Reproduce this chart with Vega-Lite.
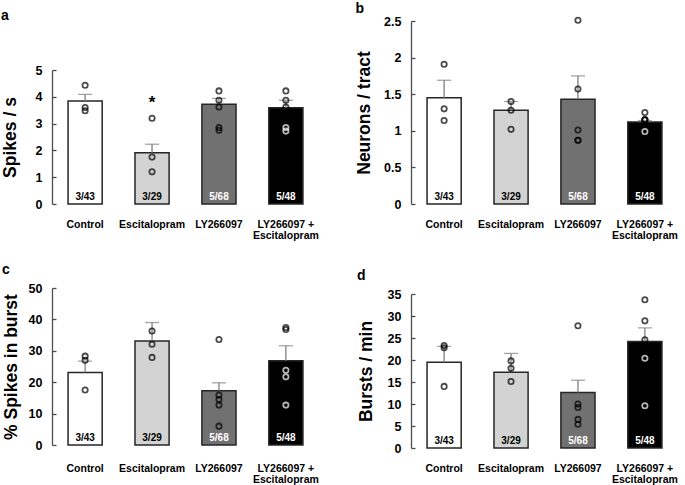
{
  "$schema": "https://vega.github.io/schema/vega-lite/v6.json",
  "padding": {"left": 1, "top": 2, "right": 0, "bottom": 0},
  "background": "white",
  "datasets": {
    "bars": [
      {"panel": "a", "g": "Control", "mean": 3.84, "hi": 4.09, "n": "3/43"},
      {"panel": "a", "g": "Escitalopram", "mean": 1.91, "hi": 2.23, "n": "3/29"},
      {"panel": "a", "g": "LY266097", "mean": 3.72, "hi": 3.94, "n": "5/68"},
      {"panel": "a", "g": "LY266097 + Escitalopram", "mean": 3.59, "hi": 3.87, "n": "5/48"},
      {"panel": "b", "g": "Control", "mean": 1.45, "hi": 1.69, "n": "3/43"},
      {"panel": "b", "g": "Escitalopram", "mean": 1.28, "hi": 1.40, "n": "3/29"},
      {"panel": "b", "g": "LY266097", "mean": 1.43, "hi": 1.75, "n": "5/68"},
      {"panel": "b", "g": "LY266097 + Escitalopram", "mean": 1.12, "hi": 1.14, "n": "5/48"},
      {"panel": "c", "g": "Control", "mean": 23.1, "hi": 26.7, "n": "3/43"},
      {"panel": "c", "g": "Escitalopram", "mean": 33.1, "hi": 39.0, "n": "3/29"},
      {"panel": "c", "g": "LY266097", "mean": 17.3, "hi": 19.8, "n": "5/68"},
      {"panel": "c", "g": "LY266097 + Escitalopram", "mean": 26.8, "hi": 31.6, "n": "5/48"},
      {"panel": "d", "g": "Control", "mean": 19.5, "hi": 23.1, "n": "3/43"},
      {"panel": "d", "g": "Escitalopram", "mean": 17.2, "hi": 21.5, "n": "3/29"},
      {"panel": "d", "g": "LY266097", "mean": 12.6, "hi": 15.4, "n": "5/68"},
      {"panel": "d", "g": "LY266097 + Escitalopram", "mean": 24.2, "hi": 27.3, "n": "5/48"}
    ],
    "points": [
      {"panel": "a", "g": "Control", "v": 4.43},
      {"panel": "a", "g": "Control", "v": 3.6},
      {"panel": "a", "g": "Control", "v": 3.48},
      {"panel": "a", "g": "Escitalopram", "v": 3.2},
      {"panel": "a", "g": "Escitalopram", "v": 1.75},
      {"panel": "a", "g": "Escitalopram", "v": 1.2},
      {"panel": "a", "g": "LY266097", "v": 4.22},
      {"panel": "a", "g": "LY266097", "v": 3.87},
      {"panel": "a", "g": "LY266097", "v": 3.62},
      {"panel": "a", "g": "LY266097", "v": 2.85},
      {"panel": "a", "g": "LY266097", "v": 2.75},
      {"panel": "a", "g": "LY266097 + Escitalopram", "v": 4.22},
      {"panel": "a", "g": "LY266097 + Escitalopram", "v": 3.87},
      {"panel": "a", "g": "LY266097 + Escitalopram", "v": 3.62},
      {"panel": "a", "g": "LY266097 + Escitalopram", "v": 2.85},
      {"panel": "a", "g": "LY266097 + Escitalopram", "v": 2.72},
      {"panel": "b", "g": "Control", "v": 1.91},
      {"panel": "b", "g": "Control", "v": 1.30},
      {"panel": "b", "g": "Control", "v": 1.14},
      {"panel": "b", "g": "Escitalopram", "v": 1.40},
      {"panel": "b", "g": "Escitalopram", "v": 1.28},
      {"panel": "b", "g": "Escitalopram", "v": 1.02},
      {"panel": "b", "g": "LY266097", "v": 2.51},
      {"panel": "b", "g": "LY266097", "v": 1.57},
      {"panel": "b", "g": "LY266097", "v": 1.01},
      {"panel": "b", "g": "LY266097", "v": 0.87},
      {"panel": "b", "g": "LY266097", "v": 0.87},
      {"panel": "b", "g": "LY266097 + Escitalopram", "v": 1.25},
      {"panel": "b", "g": "LY266097 + Escitalopram", "v": 1.15},
      {"panel": "b", "g": "LY266097 + Escitalopram", "v": 1.15},
      {"panel": "b", "g": "LY266097 + Escitalopram", "v": 1.15},
      {"panel": "b", "g": "LY266097 + Escitalopram", "v": 0.99},
      {"panel": "c", "g": "Control", "v": 28.3},
      {"panel": "c", "g": "Control", "v": 27.0},
      {"panel": "c", "g": "Control", "v": 17.5},
      {"panel": "c", "g": "Escitalopram", "v": 36.3},
      {"panel": "c", "g": "Escitalopram", "v": 32.1},
      {"panel": "c", "g": "Escitalopram", "v": 27.9},
      {"panel": "c", "g": "LY266097", "v": 33.6},
      {"panel": "c", "g": "LY266097", "v": 15.9},
      {"panel": "c", "g": "LY266097", "v": 14.5},
      {"panel": "c", "g": "LY266097", "v": 12.7},
      {"panel": "c", "g": "LY266097", "v": 6.0},
      {"panel": "c", "g": "LY266097 + Escitalopram", "v": 37.4},
      {"panel": "c", "g": "LY266097 + Escitalopram", "v": 36.8},
      {"panel": "c", "g": "LY266097 + Escitalopram", "v": 23.8},
      {"panel": "c", "g": "LY266097 + Escitalopram", "v": 21.7},
      {"panel": "c", "g": "LY266097 + Escitalopram", "v": 12.7},
      {"panel": "d", "g": "Control", "v": 23.3},
      {"panel": "d", "g": "Control", "v": 22.8},
      {"panel": "d", "g": "Control", "v": 14.0},
      {"panel": "d", "g": "Escitalopram", "v": 19.8},
      {"panel": "d", "g": "Escitalopram", "v": 18.1},
      {"panel": "d", "g": "Escitalopram", "v": 15.1},
      {"panel": "d", "g": "LY266097", "v": 27.8},
      {"panel": "d", "g": "LY266097", "v": 10.0},
      {"panel": "d", "g": "LY266097", "v": 9.2},
      {"panel": "d", "g": "LY266097", "v": 6.5},
      {"panel": "d", "g": "LY266097", "v": 5.4},
      {"panel": "d", "g": "LY266097 + Escitalopram", "v": 33.7},
      {"panel": "d", "g": "LY266097 + Escitalopram", "v": 28.9},
      {"panel": "d", "g": "LY266097 + Escitalopram", "v": 24.6},
      {"panel": "d", "g": "LY266097 + Escitalopram", "v": 20.4},
      {"panel": "d", "g": "LY266097 + Escitalopram", "v": 9.6}
    ],
    "stars": [
      {"panel": "a", "g": "Escitalopram", "v": 3.9, "s": "*"}
    ]
  },
  "columns": 2,
  "align": "each",
  "spacing": {"column": 36, "row": 22},
  "concat": [
    {
      "width": 267, "height": 183,
      "title": {"text": "a", "anchor": "start", "frame": "bounds", "fontSize": 14, "fontWeight": "bold", "font": "Liberation Sans", "offset": -2},
      "layer": [
        {"data": {"name": "bars"}, "transform": [{"filter": "datum.panel == 'a'"}],
         "mark": {"type": "bar", "stroke": "#262626", "strokeWidth": 1.5},
         "encoding": {
           "x": {"field": "g", "type": "nominal", "sort": null, "scale": {"domain": ["Control", "Escitalopram", "LY266097", "LY266097 + Escitalopram"], "paddingInner": 0.49, "paddingOuter": 0.24}},
           "y": {"field": "mean", "type": "quantitative", "scale": {"domain": [0, 5], "range": [183, 49], "nice": false}, "axis": {"title": "Spikes / s", "values": [0, 1, 2, 3, 4, 5], "titlePadding": 16}},
           "fill": {"field": "g", "type": "nominal", "scale": {"domain": ["Control", "Escitalopram", "LY266097", "LY266097 + Escitalopram"], "range": ["#ffffff", "#d3d3d3", "#717171", "#000000"]}, "legend": null}
         }},
        {"data": {"name": "bars"}, "transform": [{"filter": "datum.panel == 'a'"}],
         "mark": {"type": "rule", "color": "#7f7f7f", "strokeWidth": 1.3},
         "encoding": {"x": {"field": "g", "type": "nominal", "sort": null}, "y": {"field": "mean", "type": "quantitative", "axis": {"title": "Spikes / s", "values": [0, 1, 2, 3, 4, 5], "titlePadding": 16}}, "y2": {"field": "hi"}}},
        {"data": {"name": "bars"}, "transform": [{"filter": "datum.panel == 'a'"}],
         "mark": {"type": "tick", "color": "#7f7f7f", "thickness": 1.3, "size": 14, "orient": "horizontal"},
         "encoding": {"x": {"field": "g", "type": "nominal", "sort": null}, "y": {"field": "hi", "type": "quantitative", "axis": {"title": "Spikes / s", "values": [0, 1, 2, 3, 4, 5], "titlePadding": 16}}}},
        {"data": {"name": "points"}, "transform": [{"filter": "datum.panel == 'a'"}],
         "mark": {"type": "point", "filled": false, "size": 28, "strokeWidth": 1.8},
         "encoding": {"x": {"field": "g", "type": "nominal", "sort": null}, "y": {"field": "v", "type": "quantitative", "axis": {"title": "Spikes / s", "values": [0, 1, 2, 3, 4, 5], "titlePadding": 16}},
           "color": {"condition": {"test": "datum.g == 'LY266097 + Escitalopram' && datum.v < 3.5", "value": "#ffffff"}, "value": "#000000"}}},
        {"data": {"name": "stars"}, "transform": [{"filter": "datum.panel == 'a'"}],
         "mark": {"type": "text", "font": "Liberation Sans", "fontWeight": "bold", "fontSize": 17, "baseline": "middle", "dy": 4},
         "encoding": {"x": {"field": "g", "type": "nominal", "sort": null}, "y": {"field": "v", "type": "quantitative", "axis": {"title": "Spikes / s", "values": [0, 1, 2, 3, 4, 5], "titlePadding": 16}}, "text": {"field": "s"}}},
        {"data": {"name": "bars"}, "transform": [{"filter": "datum.panel == 'a'"}],
         "mark": {"type": "text", "font": "Liberation Sans", "fontWeight": "bold", "fontSize": 10, "baseline": "alphabetic", "dy": -4},
         "encoding": {"x": {"field": "g", "type": "nominal", "sort": null}, "y": {"datum": 0, "type": "quantitative", "axis": {"title": "Spikes / s", "values": [0, 1, 2, 3, 4, 5], "titlePadding": 16}}, "text": {"field": "n"},
           "color": {"condition": {"test": "datum.g == 'LY266097' || datum.g == 'LY266097 + Escitalopram'", "value": "#ffffff"}, "value": "#000000"}}}
      ]
    },
    {
      "width": 267, "height": 183,
      "title": {"text": "b", "anchor": "start", "frame": "bounds", "fontSize": 14, "fontWeight": "bold", "font": "Liberation Sans", "offset": -2},
      "layer": [
        {"data": {"name": "bars"}, "transform": [{"filter": "datum.panel == 'b'"}],
         "mark": {"type": "bar", "stroke": "#262626", "strokeWidth": 1.5},
         "encoding": {
           "x": {"field": "g", "type": "nominal", "sort": null, "scale": {"domain": ["Control", "Escitalopram", "LY266097", "LY266097 + Escitalopram"], "paddingInner": 0.49, "paddingOuter": 0.24}},
           "y": {"field": "mean", "type": "quantitative", "scale": {"domain": [0, 2.5], "nice": false}, "axis": {"title": "Neurons / tract", "values": [0, 0.5, 1, 1.5, 2, 2.5], "format": "~g", "titlePadding": 10}},
           "fill": {"field": "g", "type": "nominal", "scale": {"domain": ["Control", "Escitalopram", "LY266097", "LY266097 + Escitalopram"], "range": ["#ffffff", "#d3d3d3", "#717171", "#000000"]}, "legend": null}
         }},
        {"data": {"name": "bars"}, "transform": [{"filter": "datum.panel == 'b'"}],
         "mark": {"type": "rule", "color": "#7f7f7f", "strokeWidth": 1.3},
         "encoding": {"x": {"field": "g", "type": "nominal", "sort": null}, "y": {"field": "mean", "type": "quantitative", "axis": {"title": "Neurons / tract", "values": [0, 0.5, 1, 1.5, 2, 2.5], "format": "~g", "titlePadding": 10}}, "y2": {"field": "hi"}}},
        {"data": {"name": "bars"}, "transform": [{"filter": "datum.panel == 'b'"}],
         "mark": {"type": "tick", "color": "#7f7f7f", "thickness": 1.3, "size": 14, "orient": "horizontal"},
         "encoding": {"x": {"field": "g", "type": "nominal", "sort": null}, "y": {"field": "hi", "type": "quantitative", "axis": {"title": "Neurons / tract", "values": [0, 0.5, 1, 1.5, 2, 2.5], "format": "~g", "titlePadding": 10}}}},
        {"data": {"name": "points"}, "transform": [{"filter": "datum.panel == 'b'"}],
         "mark": {"type": "point", "filled": false, "size": 28, "strokeWidth": 1.8},
         "encoding": {"x": {"field": "g", "type": "nominal", "sort": null}, "y": {"field": "v", "type": "quantitative", "axis": {"title": "Neurons / tract", "values": [0, 0.5, 1, 1.5, 2, 2.5], "format": "~g", "titlePadding": 10}},
           "color": {"condition": {"test": "datum.g == 'LY266097 + Escitalopram' && datum.v < 1.1", "value": "#ffffff"}, "value": "#000000"}}},
        {"data": {"name": "bars"}, "transform": [{"filter": "datum.panel == 'b'"}],
         "mark": {"type": "text", "font": "Liberation Sans", "fontWeight": "bold", "fontSize": 10, "baseline": "alphabetic", "dy": -4},
         "encoding": {"x": {"field": "g", "type": "nominal", "sort": null}, "y": {"datum": 0, "type": "quantitative", "axis": {"title": "Neurons / tract", "values": [0, 0.5, 1, 1.5, 2, 2.5], "format": "~g", "titlePadding": 10}}, "text": {"field": "n"},
           "color": {"condition": {"test": "datum.g == 'LY266097' || datum.g == 'LY266097 + Escitalopram'", "value": "#ffffff"}, "value": "#000000"}}}
      ]
    },
    {
      "width": 267, "height": 160,
      "title": {"text": "c", "anchor": "start", "frame": "bounds", "fontSize": 14, "fontWeight": "bold", "font": "Liberation Sans", "offset": 5},
      "layer": [
        {"data": {"name": "bars"}, "transform": [{"filter": "datum.panel == 'c'"}],
         "mark": {"type": "bar", "stroke": "#262626", "strokeWidth": 1.5},
         "encoding": {
           "x": {"field": "g", "type": "nominal", "sort": null, "scale": {"domain": ["Control", "Escitalopram", "LY266097", "LY266097 + Escitalopram"], "paddingInner": 0.49, "paddingOuter": 0.24}},
           "y": {"field": "mean", "type": "quantitative", "scale": {"domain": [0, 50], "range": [157, 0], "nice": false}, "axis": {"title": "% Spikes in burst", "values": [0, 10, 20, 30, 40, 50], "titlePadding": 8}},
           "fill": {"field": "g", "type": "nominal", "scale": {"domain": ["Control", "Escitalopram", "LY266097", "LY266097 + Escitalopram"], "range": ["#ffffff", "#d3d3d3", "#717171", "#000000"]}, "legend": null}
         }},
        {"data": {"name": "bars"}, "transform": [{"filter": "datum.panel == 'c'"}],
         "mark": {"type": "rule", "color": "#7f7f7f", "strokeWidth": 1.3},
         "encoding": {"x": {"field": "g", "type": "nominal", "sort": null}, "y": {"field": "mean", "type": "quantitative", "axis": {"title": "% Spikes in burst", "values": [0, 10, 20, 30, 40, 50], "titlePadding": 8}}, "y2": {"field": "hi"}}},
        {"data": {"name": "bars"}, "transform": [{"filter": "datum.panel == 'c'"}],
         "mark": {"type": "tick", "color": "#7f7f7f", "thickness": 1.3, "size": 14, "orient": "horizontal"},
         "encoding": {"x": {"field": "g", "type": "nominal", "sort": null}, "y": {"field": "hi", "type": "quantitative", "axis": {"title": "% Spikes in burst", "values": [0, 10, 20, 30, 40, 50], "titlePadding": 8}}}},
        {"data": {"name": "points"}, "transform": [{"filter": "datum.panel == 'c'"}],
         "mark": {"type": "point", "filled": false, "size": 28, "strokeWidth": 1.8},
         "encoding": {"x": {"field": "g", "type": "nominal", "sort": null}, "y": {"field": "v", "type": "quantitative", "axis": {"title": "% Spikes in burst", "values": [0, 10, 20, 30, 40, 50], "titlePadding": 8}},
           "color": {"condition": {"test": "datum.g == 'LY266097 + Escitalopram' && datum.v < 26", "value": "#ffffff"}, "value": "#000000"}}},
        {"data": {"name": "bars"}, "transform": [{"filter": "datum.panel == 'c'"}],
         "mark": {"type": "text", "font": "Liberation Sans", "fontWeight": "bold", "fontSize": 10, "baseline": "alphabetic", "dy": -4},
         "encoding": {"x": {"field": "g", "type": "nominal", "sort": null}, "y": {"datum": 0, "type": "quantitative", "axis": {"title": "% Spikes in burst", "values": [0, 10, 20, 30, 40, 50], "titlePadding": 8}}, "text": {"field": "n"},
           "color": {"condition": {"test": "datum.g == 'LY266097' || datum.g == 'LY266097 + Escitalopram'", "value": "#ffffff"}, "value": "#000000"}}}
      ]
    },
    {
      "width": 267, "height": 160,
      "title": {"text": "d", "anchor": "start", "frame": "bounds", "fontSize": 14, "fontWeight": "bold", "font": "Liberation Sans", "offset": 5},
      "layer": [
        {"data": {"name": "bars"}, "transform": [{"filter": "datum.panel == 'd'"}],
         "mark": {"type": "bar", "stroke": "#262626", "strokeWidth": 1.5},
         "encoding": {
           "x": {"field": "g", "type": "nominal", "sort": null, "scale": {"domain": ["Control", "Escitalopram", "LY266097", "LY266097 + Escitalopram"], "paddingInner": 0.49, "paddingOuter": 0.24}},
           "y": {"field": "mean", "type": "quantitative", "scale": {"domain": [0, 35], "range": [160, 6], "nice": false}, "axis": {"title": "Bursts / min", "values": [0, 5, 10, 15, 20, 25, 30, 35], "titlePadding": 12}},
           "fill": {"field": "g", "type": "nominal", "scale": {"domain": ["Control", "Escitalopram", "LY266097", "LY266097 + Escitalopram"], "range": ["#ffffff", "#d3d3d3", "#717171", "#000000"]}, "legend": null}
         }},
        {"data": {"name": "bars"}, "transform": [{"filter": "datum.panel == 'd'"}],
         "mark": {"type": "rule", "color": "#7f7f7f", "strokeWidth": 1.3},
         "encoding": {"x": {"field": "g", "type": "nominal", "sort": null}, "y": {"field": "mean", "type": "quantitative", "axis": {"title": "Bursts / min", "values": [0, 5, 10, 15, 20, 25, 30, 35], "titlePadding": 12}}, "y2": {"field": "hi"}}},
        {"data": {"name": "bars"}, "transform": [{"filter": "datum.panel == 'd'"}],
         "mark": {"type": "tick", "color": "#7f7f7f", "thickness": 1.3, "size": 14, "orient": "horizontal"},
         "encoding": {"x": {"field": "g", "type": "nominal", "sort": null}, "y": {"field": "hi", "type": "quantitative", "axis": {"title": "Bursts / min", "values": [0, 5, 10, 15, 20, 25, 30, 35], "titlePadding": 12}}}},
        {"data": {"name": "points"}, "transform": [{"filter": "datum.panel == 'd'"}],
         "mark": {"type": "point", "filled": false, "size": 28, "strokeWidth": 1.8},
         "encoding": {"x": {"field": "g", "type": "nominal", "sort": null}, "y": {"field": "v", "type": "quantitative", "axis": {"title": "Bursts / min", "values": [0, 5, 10, 15, 20, 25, 30, 35], "titlePadding": 12}},
           "color": {"condition": {"test": "datum.g == 'LY266097 + Escitalopram' && datum.v < 24", "value": "#ffffff"}, "value": "#000000"}}},
        {"data": {"name": "bars"}, "transform": [{"filter": "datum.panel == 'd'"}],
         "mark": {"type": "text", "font": "Liberation Sans", "fontWeight": "bold", "fontSize": 10, "baseline": "alphabetic", "dy": -4},
         "encoding": {"x": {"field": "g", "type": "nominal", "sort": null}, "y": {"datum": 0, "type": "quantitative", "axis": {"title": "Bursts / min", "values": [0, 5, 10, 15, 20, 25, 30, 35], "titlePadding": 12}}, "text": {"field": "n"},
           "color": {"condition": {"test": "datum.g == 'LY266097' || datum.g == 'LY266097 + Escitalopram'", "value": "#ffffff"}, "value": "#000000"}}}
      ]
    }
  ],
  "config": {
    "view": {"stroke": null},
    "font": "Liberation Sans",
    "axis": {"grid": false},
    "axisX": {
      "title": null, "domain": false, "ticks": false, "labelAngle": 0, "labelPadding": 15,
      "labelFont": "Liberation Sans", "labelFontWeight": "bold", "labelFontSize": 10.5, "labelColor": "#000000",
      "labelLineHeight": 11.5, "labelBaseline": "top",
      "labelExpr": "datum.label == 'LY266097 + Escitalopram' ? ['LY266097 +', 'Escitalopram'] : datum.label"
    },
    "axisY": {
      "domain": true, "ticks": true,
      "domainColor": "#4d4d4d", "domainWidth": 1.3, "tickColor": "#4d4d4d", "tickWidth": 1.3, "tickSize": -4,
      "labelOverlap": false,
      "labelPadding": 14, "labelFont": "Liberation Sans", "labelFontWeight": "bold", "labelFontSize": 12.5, "labelColor": "#000000",
      "titleFont": "Liberation Sans", "titleFontWeight": "bold", "titleFontSize": 17.5, "titleColor": "#000000"
    }
  }
}
